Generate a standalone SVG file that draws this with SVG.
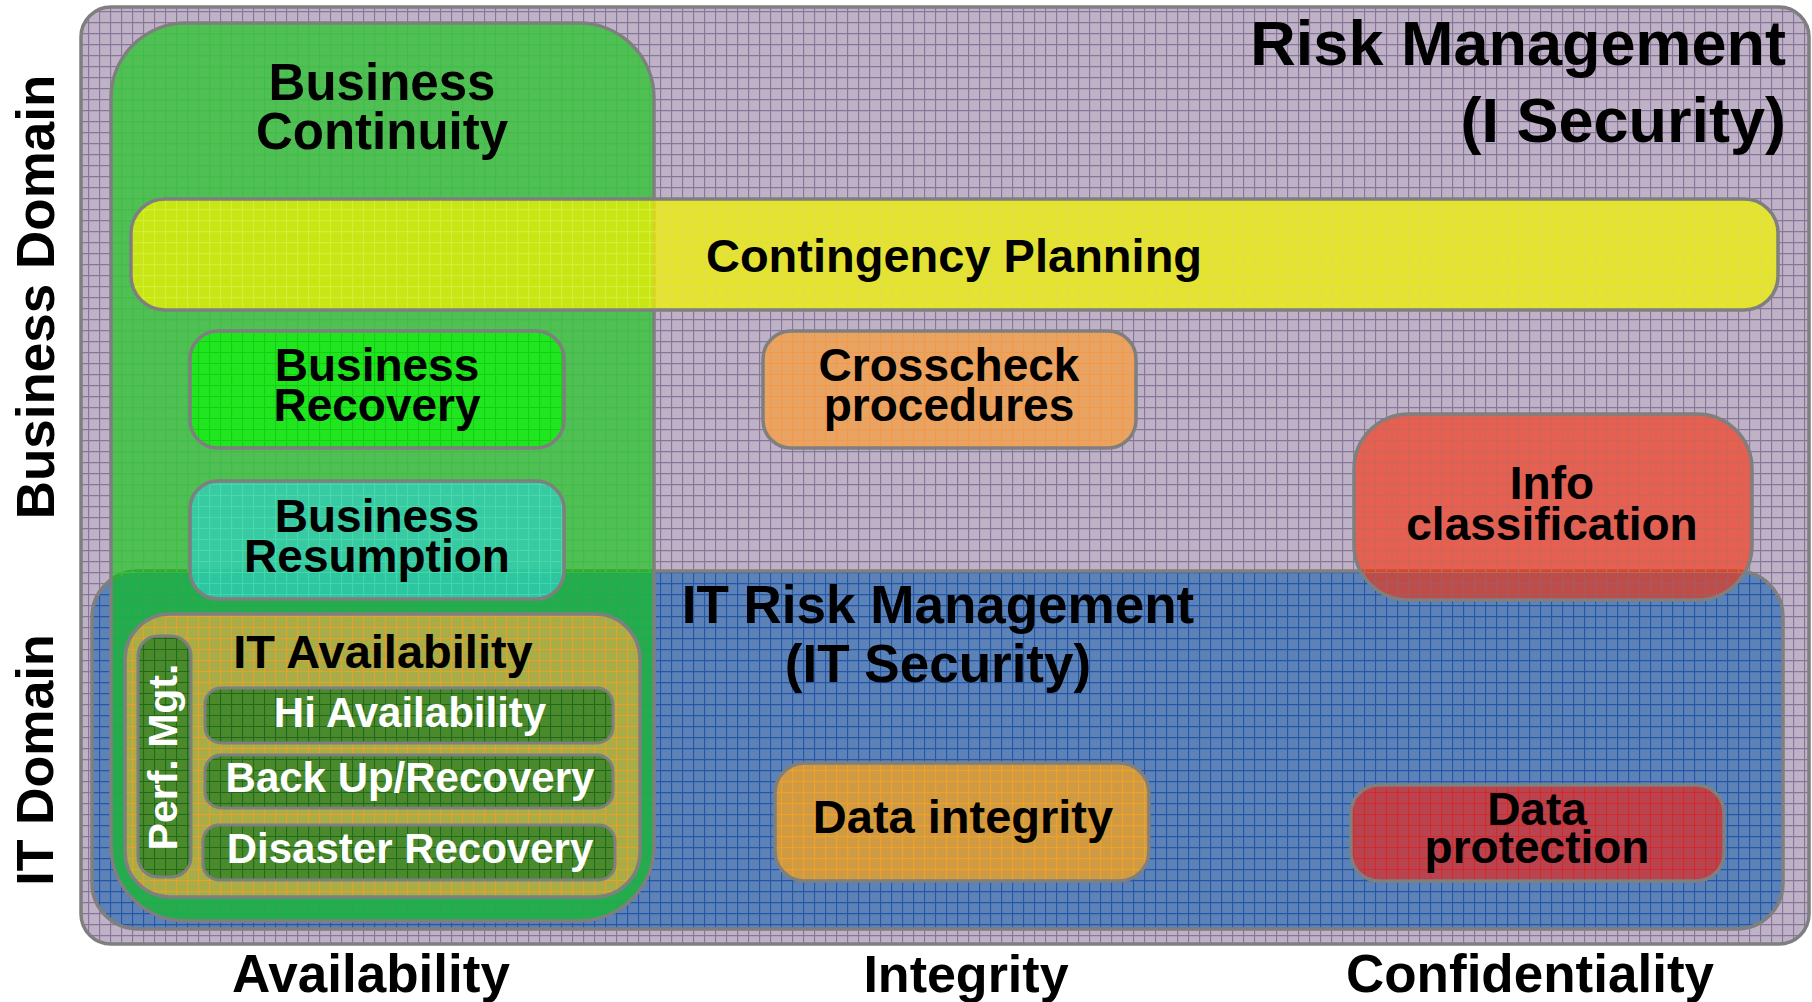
<svg xmlns="http://www.w3.org/2000/svg" width="1812" height="1002" viewBox="0 0 1812 1002">
<style>
text{font-family:"Liberation Sans",Arial,sans-serif;font-weight:bold;fill:#000;text-anchor:middle}
.w{fill:#fff}
.s{stroke:#7f7f7f;stroke-width:3.5}
.s2{stroke:#7f7f7f;stroke-width:3}
</style>
<defs>
<pattern id="pPurple" patternUnits="userSpaceOnUse" width="11" height="11"><rect width="11" height="11" fill="#bfb2c7"/><path d="M0.5 0V11M0 0.5H11" stroke="#85769a" stroke-width="1.3"/></pattern>
<pattern id="pBlue" patternUnits="userSpaceOnUse" width="11" height="11"><rect width="11" height="11" fill="#5c82b8"/><path d="M0.5 0V11M0 0.5H11" stroke="#2458a6" stroke-width="1.3"/></pattern>
<pattern id="pGreen" patternUnits="userSpaceOnUse" width="11" height="11"><rect width="11" height="11" fill="#00c800"/><path d="M0.5 0V11M0 0.5H11" stroke="#10f010" stroke-width="1.3"/></pattern>
<pattern id="pYellow" patternUnits="userSpaceOnUse" width="11" height="11"><rect width="11" height="11" fill="#eef200"/><path d="M0.5 0V11M0 0.5H11" stroke="#ffff30" stroke-width="1.3"/></pattern>
<pattern id="pBR" patternUnits="userSpaceOnUse" width="11" height="11"><rect width="11" height="11" fill="#1fe61f"/><path d="M0.5 0V11M0 0.5H11" stroke="#14cf14" stroke-width="1.2"/></pattern>
<pattern id="pTeal" patternUnits="userSpaceOnUse" width="11" height="11"><rect width="11" height="11" fill="#30cfbd"/><path d="M0.5 0V11M0 0.5H11" stroke="#48e4cc" stroke-width="1.2"/></pattern>
<pattern id="pOrange" patternUnits="userSpaceOnUse" width="11" height="11"><rect width="11" height="11" fill="#e9a362"/><path d="M0.5 0V11M0 0.5H11" stroke="#f29a48" stroke-width="1.2"/></pattern>
<pattern id="pRed" patternUnits="userSpaceOnUse" width="11" height="11"><rect width="11" height="11" fill="#ff2a00"/><path d="M0.5 0V11M0 0.5H11" stroke="#ff5a30" stroke-width="1.3"/></pattern>
<pattern id="pDI" patternUnits="userSpaceOnUse" width="11" height="11"><rect width="11" height="11" fill="#cf9a44"/><path d="M0.5 0V11M0 0.5H11" stroke="#f0a024" stroke-width="1.3"/></pattern>
<pattern id="pDP" patternUnits="userSpaceOnUse" width="11" height="11"><rect width="11" height="11" fill="#b9434e"/><path d="M0.5 0V11M0 0.5H11" stroke="#d42a2a" stroke-width="1.2"/></pattern>
<pattern id="pITA" patternUnits="userSpaceOnUse" width="11" height="11"><rect width="11" height="11" fill="#a8ad48"/><path d="M0.5 0V11M0 0.5H11" stroke="#e9a028" stroke-width="1.2"/></pattern>
<pattern id="pDG" patternUnits="userSpaceOnUse" width="11" height="11"><rect width="11" height="11" fill="#4a8a2c"/><path d="M0.5 0V11M0 0.5H11" stroke="#1e6a1a" stroke-width="1.2"/></pattern>
</defs>
<rect width="1812" height="1002" fill="#fff"/>

<g id="risk-management">
<rect x="81" y="7" width="1728" height="937" rx="30" fill="url(#pPurple)" class="s"/>
<text x="1786" y="65" font-size="63" style="text-anchor:end">Risk Management</text>
<text x="1786" y="142" font-size="63" style="text-anchor:end">(I Security)</text>
</g>

<g id="it-risk-management">
<rect x="92" y="571" width="1691" height="358" rx="46" fill="url(#pBlue)" class="s"/>
<text x="938" y="623" font-size="53">IT Risk Management</text>
<text x="938" y="682" font-size="53">(IT Security)</text>
</g>

<g id="business-continuity">
<rect x="111" y="23" width="543" height="898" rx="75" fill="url(#pGreen)" fill-opacity="0.58" class="s"/>
<text x="382" y="100" font-size="51">Business</text>
<text x="382" y="149" font-size="51">Continuity</text>
</g>

<g id="contingency-planning">
<rect x="131" y="199" width="1647" height="111" rx="34" fill="url(#pYellow)" fill-opacity="0.76" class="s"/>
<text x="954" y="272" font-size="47">Contingency Planning</text>
</g>

<g id="business-recovery">
<rect x="190" y="331" width="374" height="117" rx="28" fill="url(#pBR)" class="s"/>
<text x="377" y="381" font-size="46">Business</text>
<text x="377" y="421" font-size="46">Recovery</text>
</g>

<g id="business-resumption">
<rect x="190" y="481" width="374" height="118" rx="28" fill="url(#pTeal)" fill-opacity="0.75" class="s"/>
<text x="377" y="532" font-size="46">Business</text>
<text x="377" y="572" font-size="46">Resumption</text>
</g>

<g id="crosscheck-procedures">
<rect x="763" y="331" width="373" height="117" rx="28" fill="url(#pOrange)" class="s"/>
<text x="949" y="381" font-size="46">Crosscheck</text>
<text x="949" y="421" font-size="46">procedures</text>
</g>

<g id="info-classification">
<rect x="1354" y="414" width="398" height="186" rx="55" fill="url(#pRed)" fill-opacity="0.6" class="s"/>
<text x="1552" y="499" font-size="46">Info</text>
<text x="1552" y="540" font-size="46">classification</text>
</g>

<g id="data-integrity">
<rect x="775" y="763" width="374" height="118" rx="30" fill="url(#pDI)" class="s"/>
<text x="963" y="833" font-size="47">Data integrity</text>
</g>

<g id="data-protection">
<rect x="1351" y="785" width="373" height="96" rx="28" fill="url(#pDP)" class="s"/>
<text x="1537" y="825" font-size="46">Data</text>
<text x="1537" y="863" font-size="46">protection</text>
</g>

<g id="it-availability">
<rect x="125" y="614" width="515" height="283" rx="45" fill="url(#pITA)" class="s"/>
<text x="383" y="668" font-size="47">IT Availability</text>
</g>

<g id="perf-mgt">
<rect x="138" y="636" width="53" height="241" rx="20" fill="url(#pDG)" class="s2"/>
<text transform="translate(177,757) rotate(-90)" x="0" y="0" font-size="41" class="w">Perf. Mgt.</text>
</g>

<g id="hi-availability">
<rect x="205" y="688" width="408" height="55" rx="16" fill="url(#pDG)" class="s2"/>
<text x="410" y="727" font-size="42" class="w">Hi Availability</text>
</g>

<g id="backup-recovery">
<rect x="205" y="755" width="408" height="53" rx="16" fill="url(#pDG)" class="s2"/>
<text x="410" y="792" font-size="42" class="w">Back Up/Recovery</text>
</g>

<g id="disaster-recovery">
<rect x="203" y="825" width="412" height="55" rx="16" fill="url(#pDG)" class="s2"/>
<text x="410" y="863" font-size="42" class="w">Disaster Recovery</text>
</g>

<g id="axis-labels">
<text transform="translate(54,297) rotate(-90)" x="0" y="0" font-size="53">Business Domain</text>
<text transform="translate(53,760) rotate(-90)" x="0" y="0" font-size="52">IT Domain</text>
<text x="371" y="992" font-size="53">Availability</text>
<text x="966" y="992" font-size="52">Integrity</text>
<text x="1530" y="992" font-size="53">Confidentiality</text>
</g>

<g id="connectors"></g>
</svg>
